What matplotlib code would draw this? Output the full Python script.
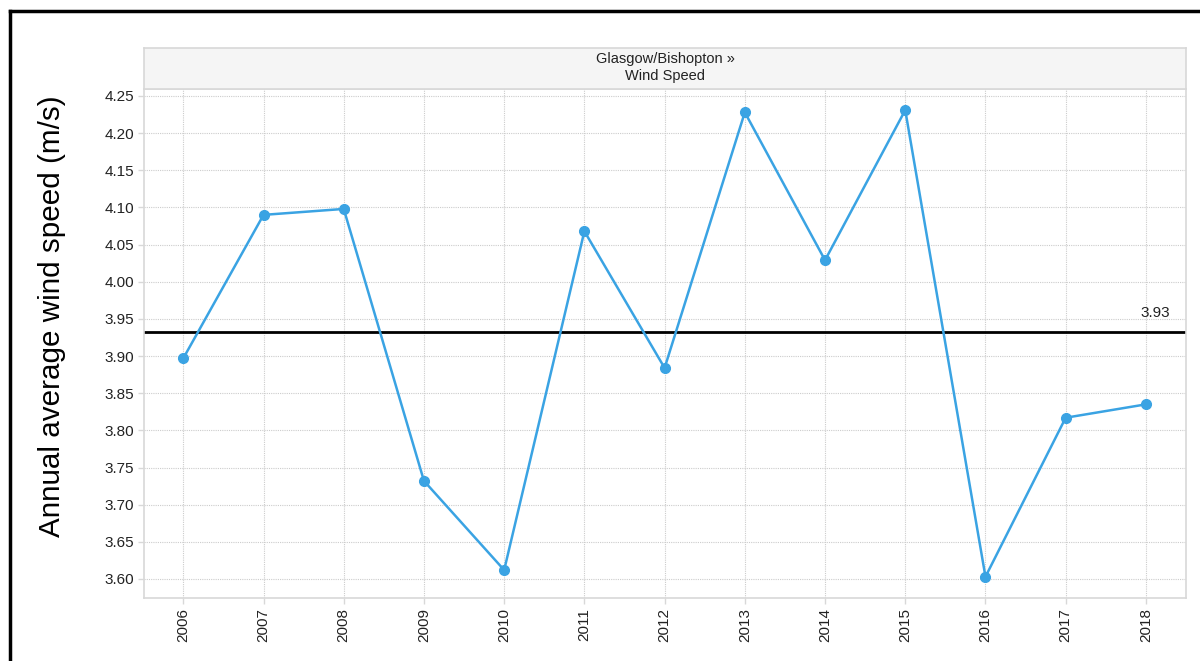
import numpy as np
import matplotlib.pyplot as plt
from matplotlib.lines import Line2D
from matplotlib.patches import Rectangle

plt.rcParams['font.family'] = ['Liberation Sans', 'DejaVu Sans']

# data
years = [2006, 2007, 2008, 2009, 2010, 2011, 2012, 2013, 2014, 2015, 2016, 2017, 2018]
wind = [3.897, 4.090, 4.098, 3.732, 3.612, 4.068, 3.884, 4.228, 4.029, 4.231, 3.603, 3.817, 3.835]
mean_val = 3.933
mean_label = '3.93'
yticks = [3.60, 3.65, 3.70, 3.75, 3.80, 3.85, 3.90, 3.95, 4.00, 4.05, 4.10, 4.15, 4.20, 4.25]
header = 'Glasgow/Bishopton \u00bb\nWind Speed'
ylabel = 'Annual average wind speed (m/s)'

W, H = 1200, 661
fig = plt.figure(figsize=(W / 100, H / 100), dpi=100)

# plot area in pixel terms
x0, x1, y0, y1 = 144, 1186, 89, 598
ax = fig.add_axes([x0 / W, 1 - y1 / H, (x1 - x0) / W, (y1 - y0) / H])

gridc = '#d8d8d8'
ax.plot(years, wind, color='#3aa3e3', lw=1.8, marker='o', ms=7, zorder=3)
ax.axhline(mean_val, color='black', lw=2, zorder=2)
ax.text(2018.3, mean_val + 0.016, mean_label, ha='right', va='bottom', fontsize=11, color='#222222')

ax.set_xlim(2005.51, 2018.5)
ax.set_ylim(3.5744, 4.2594)
ax.set_xticks(years)
ax.set_xticklabels([str(y) for y in years], rotation=90, fontsize=11, color='#222222')
ax.set_yticks(yticks)
ax.set_yticklabels(['%.2f' % v for v in yticks], fontsize=11, color='#222222')
ax.grid(True, color='#cccccc', linestyle=(0, (1, 1)), lw=0.8)
ax.set_axisbelow(True)
ax.tick_params(color=gridc, length=4, width=1, pad=3)
for s in ax.spines.values():
    s.set_color(gridc)
    s.set_linewidth(1.2)

# header strip
hdr = fig.add_axes([x0 / W, 1 - y0 / H, (x1 - x0) / W, (y0 - 48) / H])
hdr.set_xticks([])
hdr.set_yticks([])
hdr.set_facecolor('#f5f5f5')
for s in hdr.spines.values():
    s.set_color(gridc)
    s.set_linewidth(1.2)
hdr.text(0.5, 0.53, header, ha='center', va='center', fontsize=10.5, color='#222222',
         linespacing=1.25, transform=hdr.transAxes)

fig.text(52 / W, 1 - 316 / H, ylabel, rotation=90, ha='center', va='center', fontsize=21.3, color='black')

# outer frame (top and left edges)
fig.add_artist(Line2D([10 / W, 1], [1 - 11 / H, 1 - 11 / H], color='black', lw=2.5, transform=fig.transFigure))
fig.add_artist(Line2D([10 / W, 10 / W], [0, 1 - 11 / H], color='black', lw=2.5, transform=fig.transFigure))

fig.savefig('out.png', dpi=100)
